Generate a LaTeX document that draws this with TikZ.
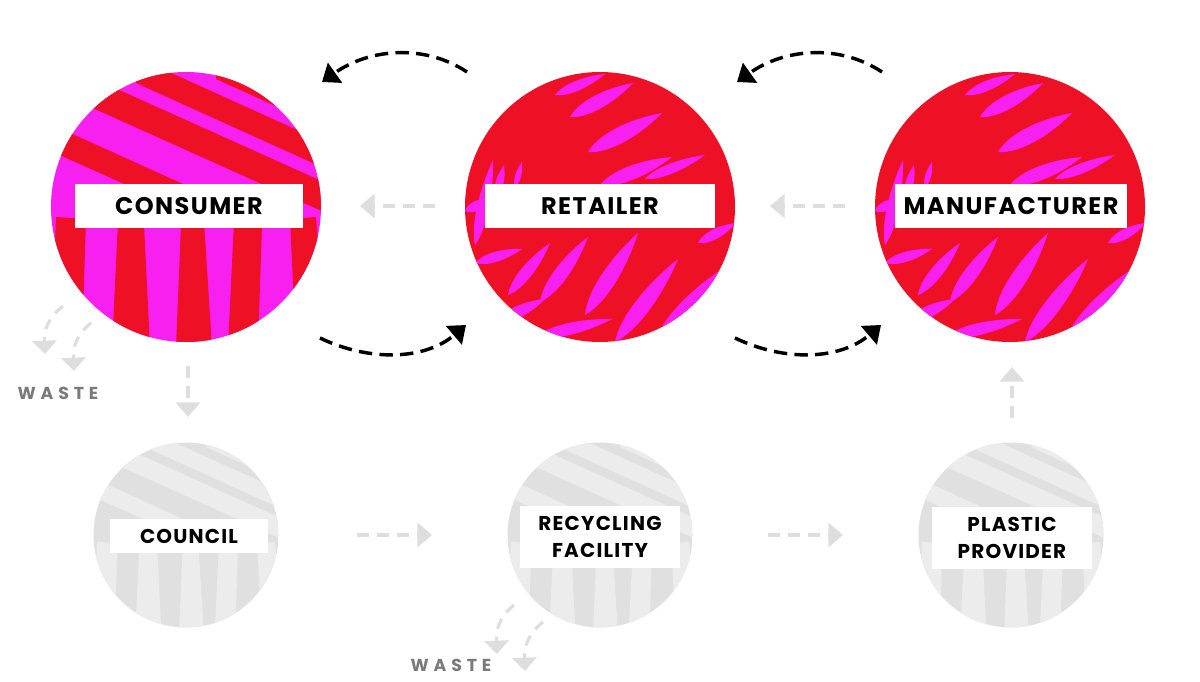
\documentclass[tikz,border=0pt]{standalone}
\usepackage{fontspec}
\setmainfont{Poppins}
\usetikzlibrary{arrows.meta,calc}
\definecolor{cred}{RGB}{238,17,38}
\definecolor{cmag}{RGB}{248,32,240}
\definecolor{gbase}{RGB}{224,224,224}
\definecolor{glight}{RGB}{236,236,236}
\definecolor{garrow}{RGB}{222,222,222}
\definecolor{wastegrey}{RGB}{122,122,122}
\tikzset{
  bigbox/.style={fill=white, inner sep=0pt, text=black, align=center,
    font=\bfseries\fontsize{18}{20}\selectfont\addfontfeatures{LetterSpace=6}},
  smallbox/.style={fill=white, inner sep=0pt, text=black, align=center,
    font=\bfseries\fontsize{15}{20.5}\selectfont\addfontfeatures{LetterSpace=6}},
  wastelbl/.style={inner sep=0pt, text=wastegrey,
    font=\bfseries\fontsize{13}{15}\selectfont\addfontfeatures{LetterSpace=28}},
  flow/.style={black, line width=2.6pt, dash pattern=on 10pt off 5.5pt,
    -{Triangle[length=12pt,width=18pt]}},
  gflow/.style={garrow, line width=2.6pt, dash pattern=on 9pt off 6pt,
    -{Triangle[length=11pt,width=18pt]}},
  wflow/.style={garrow, line width=2.4pt, dash pattern=on 8pt off 6pt,
    -{Triangle[length=10pt,width=18pt]}},
  bigcirc/.style={circle, inner sep=0pt, minimum size=202.5pt},
  smallcirc/.style={circle, inner sep=0pt, minimum size=139pt},
}
\newcommand\leafshape[5]{%
  \fill (#1,#2) .. controls ($(#1,#2)!0.2!(#3,#4)!#5!90:(#3,#4)$) and ($(#1,#2)!0.6!(#3,#4)!#5!90:(#3,#4)$) .. (#3,#4)
   .. controls ($(#1,#2)!0.6!(#3,#4)!#5!-90:(#3,#4)$) and ($(#1,#2)!0.2!(#3,#4)!#5!-90:(#3,#4)$) .. (#1,#2) -- cycle;}
\newcommand\fernleaves{%
  \leafshape{-30}{-90}{33}{-124}{7pt}
  \leafshape{-12}{-55}{62}{-94}{8pt}
  \leafshape{0}{-22}{72}{-50}{7pt}
  \leafshape{45}{-28}{105}{-52}{5pt}
  \leafshape{-45}{-112}{5}{-133}{5pt}
  \leafshape{-125}{38}{-107}{-47}{6pt}
  \leafshape{-104}{-10}{-96}{-42}{4pt}
  \leafshape{-15}{108}{38}{26}{8pt}
  \leafshape{15}{135}{78}{52}{8pt}
  \leafshape{-60}{95}{-12}{30}{7pt}
  \leafshape{-92}{88}{-50}{36}{6pt}
  \leafshape{-105}{116}{-55}{92}{6pt}
  \leafshape{58}{128}{122}{62}{6pt}
  \leafshape{-65}{130}{12}{112}{6pt}
  \leafshape{98}{36}{136}{16}{5pt}
  \leafshape{-125}{56}{-78}{42}{5pt}
  \leafshape{92}{104}{132}{58}{5pt}
  \leafshape{-135}{4}{-108}{-8}{5pt}
  \leafshape{-85}{-20}{-78}{-45}{3pt}}
\newcommand\streettex{%
  \fill (-140,-150)--(140,-24)--(140,6)--(-140,-120)--cycle;
  \fill (-140,-85)--(30,-8)--(30,18)--(-140,-58)--cycle;
  \fill (-50,-150)--(140,-64)--(140,-38)--(-50,-124)--cycle;
  \fill (30,-150)--(140,-100)--(140,-78)--(30,-128)--cycle;
  \fill (-130,10)--(-100,12)--(-104,140)--(-135,140)--cycle;
  \fill (-68,15)--(-42,18)--(-36,140)--(-74,140)--cycle;
  \fill (-5,18)--(18,14)--(26,140)--(-10,140)--cycle;
  \fill (48,15)--(76,18)--(72,140)--(42,140)--cycle;
  \fill (104,12)--(130,10)--(140,140)--(110,140)--cycle;}
\begin{document}
\begin{tikzpicture}[x=0.75pt,y=-0.75pt]
\useasboundingbox (0,0) rectangle (1200,682);
% top circles
\node[bigcirc] (consumer) at (186,207) {};
\node[bigcirc] (retailer) at (600,207) {};
\node[bigcirc] (manufacturer) at (1010,207) {};
\begin{scope}
  \clip (186,207) circle[radius=135];
  \fill[cmag] (186,207) circle[radius=136];
  \begin{scope}[shift={(186,207)}, cred] \streettex \end{scope}
\end{scope}
\begin{scope}
  \clip (600,207) circle[radius=135];
  \fill[cred] (600,207) circle[radius=136];
  \begin{scope}[shift={(600,207)}, cmag] \fernleaves \end{scope}
\end{scope}
\begin{scope}
  \clip (1010,207) circle[radius=135];
  \fill[cred] (1010,207) circle[radius=136];
  \begin{scope}[shift={(1010,207)}, cmag] \fernleaves \end{scope}
\end{scope}
% bottom circles
\node[smallcirc] (council) at (186,535) {};
\node[smallcirc] (recycling) at (600,535) {};
\node[smallcirc] (plastic) at (1011,535) {};
\foreach \cx in {186,600,1011}{
  \begin{scope}
    \clip (\cx,535) circle[radius=92.5];
    \fill[gbase] (\cx,535) circle[radius=93];
    \begin{scope}[shift={(\cx,535)}, scale=0.685, glight] \streettex \end{scope}
  \end{scope}}
% labels
\node[bigbox, minimum width=171pt, minimum height=33pt] (lconsumer) at (189,206) {CONSUMER};
\node[bigbox, minimum width=172.5pt, minimum height=33pt] (lretailer) at (600,206) {RETAILER};
\node[bigbox, minimum width=174pt, minimum height=33pt] (lmanufacturer) at (1011,206) {MANUFACTURER};
\node[smallbox, minimum width=118.5pt, minimum height=25.5pt] (lcouncil) at (189,536) {COUNCIL};
\node[smallbox, minimum width=120pt, minimum height=47pt] (lrecycling) at (600,537) {RECYCLING\\FACILITY};
\node[smallbox, minimum width=120pt, minimum height=47pt] (lplastic) at (1012,538) {PLASTIC\\PROVIDER};
% black flows
\coordinate (t1s) at (467,72);  \coordinate (t1e) at (322,82);
\coordinate (t2s) at (882,72);  \coordinate (t2e) at (737,82);
\coordinate (b1s) at (320,338); \coordinate (b1e) at (466,325);
\coordinate (b2s) at (735,338); \coordinate (b2e) at (881,325);
\draw[flow] (t1s) .. controls (425,44) and (370,48) .. (t1e);
\draw[flow] (t2s) .. controls (840,44) and (785,48) .. (t2e);
\draw[flow] (b1s) .. controls (370,362) and (425,360) .. (b1e);
\draw[flow] (b2s) .. controls (785,362) and (840,360) .. (b2e);
% grey flows
\coordinate (g1s) at (435,206); \coordinate (g1e) at (360,206);
\coordinate (g2s) at (845,206); \coordinate (g2e) at (770,206);
\coordinate (g3s) at (357,535); \coordinate (g3e) at (432,535);
\coordinate (g4s) at (768,535); \coordinate (g4e) at (843,535);
\coordinate (g5s) at (188,366); \coordinate (g5e) at (188,417);
\coordinate (g6s) at (1012,418); \coordinate (g6e) at (1012,367);
\draw[gflow] (g1s) -- (g1e);
\draw[gflow] (g2s) -- (g2e);
\draw[gflow] (g3s) -- (g3e);
\draw[gflow] (g4s) -- (g4e);
\draw[gflow] (g5s) -- (g5e);
\draw[gflow] (g6s) -- (g6e);
% waste flows
\coordinate (w1s) at (63,306); \coordinate (w1e) at (45,354);
\coordinate (w2s) at (91,323); \coordinate (w2e) at (74,371);
\coordinate (w3s) at (514,605); \coordinate (w3e) at (497,654);
\coordinate (w4s) at (543,622); \coordinate (w4e) at (525,671);
\draw[wflow] (w1s) .. controls (48,318) and (44,330) .. (w1e);
\draw[wflow] (w2s) .. controls (76,335) and (73,347) .. (w2e);
\draw[wflow] (w3s) .. controls (499,617) and (496,630) .. (w3e);
\draw[wflow] (w4s) .. controls (528,634) and (524,647) .. (w4e);
\node[wastelbl] (waste1) at (58,393) {WASTE};
\node[wastelbl] (waste2) at (451,665) {WASTE};
\end{tikzpicture}
\end{document}
